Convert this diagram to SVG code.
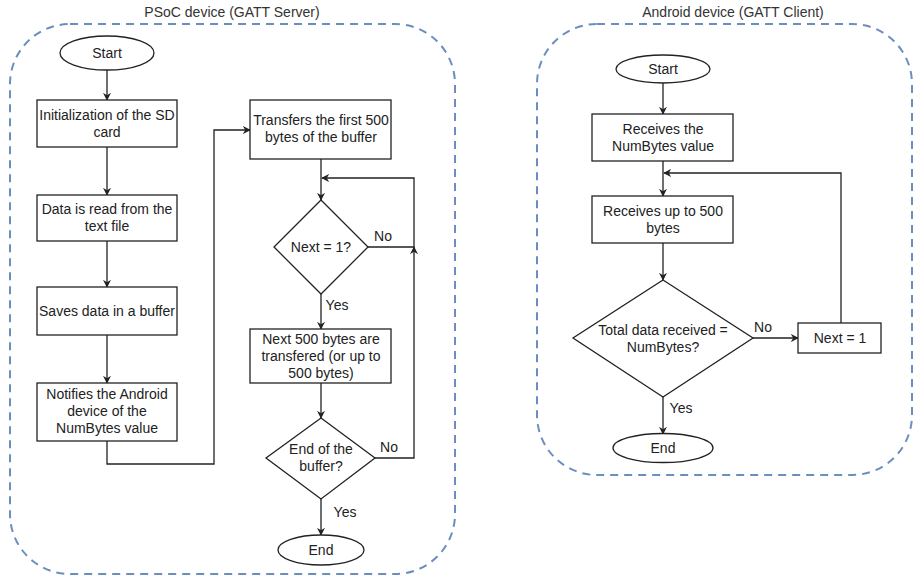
<svg xmlns="http://www.w3.org/2000/svg" width="915" height="577" viewBox="0 0 915 577">
<style>
text{font-family:"Liberation Sans",Arial,sans-serif;font-size:14px;fill:#222;text-anchor:middle}
.title{font-size:14px;fill:#333}
.shape{fill:#fff;stroke:#222;stroke-width:1.3}
.cont{fill:none;stroke:#6c8ebf;stroke-width:2;stroke-dasharray:8 6}
.edge{fill:none;stroke:#222;stroke-width:1.3}
.arr{marker-end:url(#ah)}
</style>
<defs>
<marker id="ah" viewBox="0 0 10 10" refX="9" refY="5" markerWidth="8" markerHeight="8" markerUnits="userSpaceOnUse" orient="auto">
<path d="M0,0 L10,5 L0,10 L3,5 Z" fill="#222"/>
</marker>
</defs>
<rect width="915" height="577" fill="#fff"/>
<g id="server-container">
<rect class="cont" x="10" y="24" width="445" height="550" rx="60" ry="60"/>
<text class="title" x="232" y="17">PSoC device (GATT Server)</text>
</g>
<g id="client-container">
<rect class="cont" x="537" y="24" width="375" height="451" rx="60" ry="60"/>
<text class="title" x="733" y="17">Android device (GATT Client)</text>
</g>
<g id="connectors">
<path class="edge arr" d="M107,70 V100"/>
<path class="edge arr" d="M107,147 V195"/>
<path class="edge arr" d="M107,241 V287"/>
<path class="edge arr" d="M107,335 V383"/>
<path class="edge arr" d="M107,441 V464 H214 V130 H250"/>
<path class="edge arr" d="M321,159 V200"/>
<path class="edge arr" d="M368,247 H414 V178 H322"/>
<text x="383" y="241">No</text>
<path class="edge arr" d="M321,294 V329"/>
<text x="337" y="310">Yes</text>
<path class="edge arr" d="M321,383 V418"/>
<path class="edge arr" d="M375,458 H414 V247"/>
<text x="389" y="452">No</text>
<path class="edge arr" d="M321,499 V535"/>
<text x="345" y="517">Yes</text>
<path class="edge arr" d="M663,83 V114"/>
<path class="edge arr" d="M663,161 V196"/>
<path class="edge arr" d="M663,243 V280"/>
<path class="edge arr" d="M753,338 H798"/>
<text x="763" y="332">No</text>
<path class="edge arr" d="M841,323 V173 H664"/>
<path class="edge arr" d="M663,397 V434"/>
<text x="681" y="413">Yes</text>
</g>
<g id="s-start"><ellipse class="shape" cx="107" cy="53" rx="47" ry="17"/><text x="107" y="58">Start</text></g>
<g id="s-init"><rect class="shape" x="37" y="100" width="140" height="47"/><text x="107" y="120">Initialization of the SD</text><text x="107" y="137">card</text></g>
<g id="s-read"><rect class="shape" x="37" y="195" width="140" height="46"/><text x="107" y="214">Data is read from the</text><text x="107" y="231">text file</text></g>
<g id="s-save"><rect class="shape" x="37" y="287" width="140" height="48"/><text x="107" y="316">Saves data in a buffer</text></g>
<g id="s-notify"><rect class="shape" x="37" y="383" width="140" height="58"/><text x="107" y="399">Notifies the Android</text><text x="107" y="416">device of the</text><text x="107" y="433">NumBytes value</text></g>
<g id="s-first"><rect class="shape" x="250" y="100" width="141" height="59"/><text x="321" y="125">Transfers the first 500</text><text x="321" y="142">bytes of the buffer</text></g>
<g id="s-next-q"><path class="shape" d="M321,200 L368,247 L321,294 L274,247 Z"/><text x="321" y="252">Next = 1?</text></g>
<g id="s-next500"><rect class="shape" x="250" y="329" width="141" height="54"/><text x="321" y="344">Next 500 bytes are</text><text x="321" y="361">transfered (or up to</text><text x="321" y="378">500 bytes)</text></g>
<g id="s-endbuf"><path class="shape" d="M321,418 L375,458 L321,499 L266,458 Z"/><text x="321" y="454">End of the</text><text x="321" y="471">buffer?</text></g>
<g id="s-end"><ellipse class="shape" cx="321" cy="550" rx="43" ry="15"/><text x="321" y="555">End</text></g>
<g id="c-start"><ellipse class="shape" cx="663" cy="69" rx="47" ry="14"/><text x="663" y="74">Start</text></g>
<g id="c-numbytes"><rect class="shape" x="592" y="114" width="141" height="47"/><text x="663" y="134">Receives the</text><text x="663" y="151">NumBytes value</text></g>
<g id="c-recv"><rect class="shape" x="592" y="196" width="141" height="47"/><text x="663" y="216">Receives up to 500</text><text x="663" y="233">bytes</text></g>
<g id="c-total"><path class="shape" d="M663,280 L753,338 L663,397 L573,338 Z"/><text x="663" y="335">Total data received =</text><text x="663" y="352">NumBytes?</text></g>
<g id="c-next1"><rect class="shape" x="798" y="323" width="83" height="30"/><text x="840" y="343">Next = 1</text></g>
<g id="c-end"><ellipse class="shape" cx="663" cy="448" rx="50" ry="14.5"/><text x="663" y="453">End</text></g>
</svg>
